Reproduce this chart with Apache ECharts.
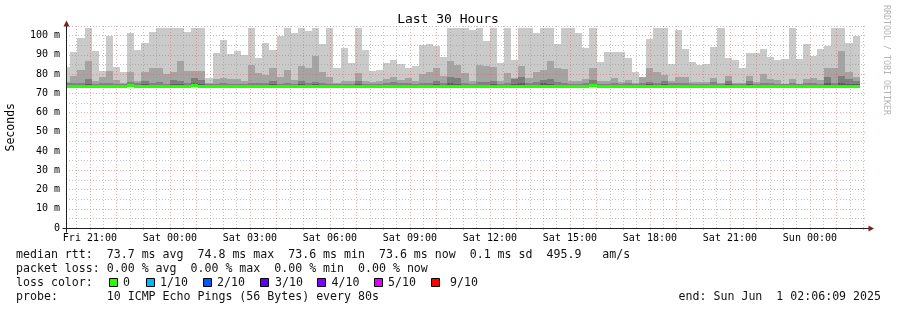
<!DOCTYPE html>
<html><head><meta charset="utf-8">
<script src="https://cdn.jsdelivr.net/npm/echarts@6/dist/echarts.min.js"></script>
<style>html,body{margin:0;padding:0;background:#fff}#c{width:897px;height:310px}</style>
</head><body><div id="c"></div>
<script>
// ---------- data ----------
const chartTitle = 'Last 30 Hours';
const yAxisName = 'Seconds';
const watermark = 'RRDTOOL / TOBI OETIKER';
// time in hours relative to Sat 00:00
const firstBinStartHour = -4;      // Fri 20:00
const binMinutes = 16;             // 12 x 80 s steps
const axisStartHour = -3.8975;     // Fri 20:06:09
const axisEndHour = 26.1025;       // Sun 02:06:09
const xLabelHours = [-3, 0, 3, 6, 9, 12, 15, 18, 21, 24];
const xLabels = ['Fri 21:00','Sat 00:00','Sat 03:00','Sat 06:00','Sat 09:00','Sat 12:00','Sat 15:00','Sat 18:00','Sat 21:00','Sun 00:00'];
const majorGridHours = [-3,-2,-1,0,1,2,3,4,5,6,7,8,9,10,11,12,13,14,15,16,17,18,19,20,21,22,23,24,25,26];
const minorGridHours = [-3.5,-2.5,-1.5,-0.5,0.5,1.5,2.5,3.5,4.5,5.5,6.5,7.5,8.5,9.5,10.5,11.5,12.5,13.5,14.5,15.5,16.5,17.5,18.5,19.5,20.5,21.5,22.5,23.5,24.5,25.5];
const yMax = 105, yStep = 5, yLabelStep = 10;

// smoke (ms): top of each band, per 16 min bin
const smokeMax = [
 83.6,91.4,98.6,103.8,91.9,81.7,99.8,83.6,81.0,101.2,92.4,96.0,102.0,103.8,103.8,103.8,103.8,102.0,103.8,103.8,78.0,90.9,97.6,90.3,91.9,89.8,103.8,88.3,
 96.0,92.5,99.7,103.8,101.6,103.8,102.2,103.8,95.9,103.8,83.4,93.4,85.7,103.8,92.4,81.7,82.2,86.0,87.2,85.3,83.4,84.0,95.2,95.5,94.5,88.8,103.8,103.8,
 103.8,102.9,103.8,97.2,103.8,85.7,103.8,87.4,103.8,103.8,101.2,103.8,103.8,95.5,103.8,103.8,101.2,93.4,103.8,86.4,91.4,91.7,91.7,88.3,81.0,78.3,98.3,103.8,
 103.8,85.2,102.8,92.9,86.2,84.8,85.2,94.0,103.8,88.6,87.2,83.1,90.9,90.9,92.9,89.1,87.2,87.9,103.8,87.9,95.5,89.5,92.9,94.8,103.8,103.8,96.0,100.0];
const smokeP9 = [
 76.0,78.8,82.2,86.9,76.6,78.3,81.7,77.0,75.5,81.0,76.2,81.0,83.1,83.1,80.0,81.0,86.9,81.7,81.7,81.7,75.5,77.4,78.0,77.4,77.4,76.6,84.8,80.5,
 79.7,83.4,78.3,82.1,77.1,84.0,83.4,89.5,81.0,78.6,75.3,76.2,76.6,80.5,76.2,75.7,76.2,77.6,78.6,76.9,77.9,76.2,80.0,80.9,83.1,78.8,86.6,84.8,
 80.5,76.6,84.8,84.3,83.6,76.2,80.5,77.9,84.0,77.9,81.0,82.2,86.9,83.1,82.8,76.2,76.2,77.6,83.1,76.6,76.6,77.9,75.9,77.1,75.3,78.3,83.1,81.0,
 79.7,76.6,78.3,78.3,75.9,75.9,75.9,77.9,75.5,78.8,75.2,75.2,78.8,75.9,80.0,77.4,76.9,74.8,77.4,74.8,77.4,77.9,76.9,83.1,83.1,92.1,81.0,78.3];
const smokeP8 = [
 75.2,75.5,75.3,77.4,75.0,75.2,75.3,75.0,74.8,75.9,75.3,76.6,75.3,76.0,75.0,77.0,76.2,75.3,78.0,77.0,74.8,75.0,75.2,75.0,75.0,74.9,75.5,75.2,
 75.2,76.2,75.0,75.3,75.0,76.2,75.5,76.0,75.3,75.0,74.8,75.0,75.0,76.4,75.0,74.9,75.0,75.6,75.8,75.2,75.6,75.0,75.4,75.6,76.6,75.4,78.6,77.9,
 75.6,75.0,76.0,75.8,76.2,75.0,75.4,77.5,78.6,75.4,75.8,76.9,77.4,76.0,75.6,75.0,75.0,75.6,77.0,75.0,75.0,75.5,74.9,75.2,74.9,75.4,76.0,75.6,
 76.4,75.2,75.4,75.6,75.0,75.0,75.0,75.8,74.9,76.6,74.9,75.0,76.2,75.0,75.2,75.4,75.0,74.8,75.6,74.8,75.4,75.6,75.0,78.6,75.6,79.0,77.3,76.3];
const smokeP7 = [
 74.3,74.4,74.4,75.0,74.2,74.3,74.4,74.2,74.2,74.6,74.3,74.6,74.3,74.5,74.2,75.0,74.8,74.4,75.3,74.8,74.2,74.2,74.3,74.3,74.2,74.2,74.4,74.3,
 74.3,74.6,74.3,74.4,74.2,74.6,74.4,74.6,74.3,74.3,74.2,74.3,74.2,74.6,74.3,74.2,74.2,74.4,74.5,74.3,74.4,74.3,74.4,74.4,74.6,74.3,75.2,74.8,
 74.4,74.3,74.5,74.4,74.6,74.2,74.4,75.0,75.4,74.4,74.5,75.5,74.8,74.5,74.4,74.3,74.3,74.4,75.0,74.3,74.2,74.4,74.2,74.3,74.2,74.4,74.6,74.4,
 74.8,74.3,74.4,74.4,74.2,74.2,74.3,74.5,74.2,74.6,74.2,74.3,74.6,74.3,74.4,74.4,74.3,74.2,74.4,74.2,74.4,74.4,74.3,75.2,74.4,75.6,74.8,74.6];
const smokeMin = [
 73.3,73.3,73.2,73.3,73.1,73.2,73.2,73.1,73.2,73.4,73.2,73.2,73.3,73.3,73.3,73.3,73.4,73.3,73.4,73.3,73.2,73.2,73.3,73.2,73.2,73.2,73.3,73.2,
 73.3,73.3,73.2,73.3,73.2,73.3,73.3,73.3,73.2,73.2,73.2,73.2,73.2,73.3,73.2,73.2,73.2,73.3,73.3,73.2,73.3,73.2,73.2,73.2,73.3,73.2,73.4,73.3,
 73.3,73.3,73.3,73.3,73.4,73.2,73.3,73.3,73.4,73.3,73.3,73.2,73.4,73.3,73.3,73.2,73.2,73.3,73.8,73.3,73.2,73.3,73.2,73.2,73.2,73.3,73.3,73.3,
 73.4,73.3,73.3,73.3,73.2,73.2,73.2,73.3,73.2,73.3,73.2,73.2,73.3,73.2,73.3,73.3,73.2,73.2,73.3,73.2,73.3,73.3,73.3,73.4,73.3,73.1,73.3,73.3];
const medianRtt = [
 73.8,73.7,73.7,73.8,73.5,73.5,73.6,73.5,73.6,73.9,73.6,73.6,73.7,73.8,73.7,73.8,73.8,73.7,73.9,73.8,73.6,73.6,73.7,73.6,73.6,73.6,73.7,73.6,
 73.7,73.8,73.6,73.7,73.6,73.7,73.7,73.7,73.6,73.6,73.6,73.6,73.6,73.7,73.6,73.6,73.6,73.7,73.7,73.6,73.7,73.6,73.6,73.6,73.7,73.6,73.8,73.7,
 73.7,73.7,73.7,73.7,73.8,73.6,73.7,73.7,73.8,73.7,73.7,73.6,73.8,73.7,73.7,73.6,73.6,73.7,74.3,73.7,73.6,73.7,73.6,73.6,73.6,73.7,73.7,73.7,
 73.8,73.7,73.7,73.7,73.6,73.6,73.6,73.7,73.6,73.7,73.6,73.6,73.7,73.6,73.7,73.7,73.6,73.6,73.7,73.6,73.7,73.7,73.7,73.8,73.7,73.5,73.7,73.7];

const legendLines = [
 'median rtt:  73.7 ms avg  74.8 ms max  73.6 ms min  73.6 ms now  0.1 ms sd  495.9   am/s',
 'packet loss: 0.00 % avg  0.00 % max  0.00 % min  0.00 % now',
 'loss color:',
 'probe:       10 ICMP Echo Pings (56 Bytes) every 80s'
];
const lossLabels = ['0','1/10','2/10','3/10','4/10','5/10','9/10'];
const lossColors = ['#26ff00','#00b8ff','#0059ff','#5e00ff','#7e00ff','#dd00ff','#ff0000'];
const endText = 'end: Sun Jun  1 02:06:09 2025';

// ---------- style / layout ----------
const MONO = '"DejaVu Sans Mono", monospace';
const smokeColors = ['#cacaca', '#a4a4a4', '#7e7e7e', '#585858'];
const medianColor = lossColors[0];
const GRID_RED = 'rgba(230,90,90,0.5)';
const GRID_GRAY = 'rgba(150,150,150,0.55)';
const lossBoxX = [109, 146, 203, 260, 317, 374, 431];
const lossLabelX = [123, 160, 217, 275, 331.5, 388, 450];
const legendY = [255, 269, 283, 297];

const binHours = binMinutes / 60;
const binData = smokeMax.map((mx, i) => {
  const s = firstBinStartHour + i * binHours;
  return [s, s + binHours, smokeMin[i], smokeP7[i], smokeP8[i], smokeP9[i], mx, medianRtt[i]];
});

function renderSmoke(params, api) {
  const s = api.value(0), e = api.value(1), lo = api.value(2);
  const tops = [api.value(6), api.value(5), api.value(4), api.value(3)];
  const pa = api.coord([s, lo]), pb = api.coord([e, lo]);
  const xa = Math.round(pa[0]), xb = Math.round(pb[0]), yb = Math.round(pa[1]);
  const children = tops.map((t, k) => {
    const yt = Math.round(api.coord([s, t])[1]);
    return { type: 'rect', shape: { x: xa, y: yt, width: xb - xa, height: yb - yt }, style: { fill: smokeColors[k] } };
  });
  return { type: 'group', children };
}
function renderMedian(params, api) {
  const s = api.value(0), e = api.value(1), m = api.value(7);
  const pa = api.coord([s, m]), pb = api.coord([e, m]);
  const xa = Math.round(pa[0]), xb = Math.round(pb[0]);
  const yc = Math.round(pa[1] - 1.5);
  return { type: 'rect', shape: { x: xa, y: yc, width: xb - xa, height: 3 }, style: { fill: medianColor } };
}

const chart = echarts.init(document.getElementById('c'));
const option = {
  animation: false,
  backgroundColor: '#ffffff',
  grid: { left: 66, right: 31, top: 26, bottom: 82, containLabel: false },
  xAxis: [{
    type: 'value', min: axisStartHour, max: axisEndHour, z: 4,
    axisLine: { show: false },
    axisTick: { show: true, customValues: majorGridHours, length: 2, lineStyle: { color: GRID_RED } },
    axisLabel: { customValues: xLabelHours, margin: 5, fontFamily: MONO, fontSize: 10, color: '#000',
      formatter: v => { const k = xLabelHours.indexOf(Math.round(v)); return k >= 0 ? xLabels[k] : ''; } },
    splitLine: { show: true, lineStyle: { color: GRID_RED, type: [1, 2], width: 1 } }
  }, {
    type: 'value', min: axisStartHour, max: axisEndHour, position: 'top', z: 3,
    axisLine: { show: false },
    axisTick: { show: false, customValues: minorGridHours },
    axisLabel: { show: false },
    splitLine: { show: true, lineStyle: { color: GRID_GRAY, type: [1, 2], width: 1 } }
  }],
  yAxis: [{
    type: 'value', min: 0, max: yMax, interval: yStep, z: 3,
    axisLine: { show: false }, axisTick: { show: false },
    axisLabel: { margin: 6, fontFamily: MONO, fontSize: 10, color: '#000',
      formatter: v => (v % yLabelStep !== 0 ? '' : (v === 0 ? '0' : v + ' m')) },
    splitLine: { show: true, lineStyle: { color: [GRID_RED, GRID_GRAY], type: [1, 2], width: 1 } }
  }],
  series: [{
    type: 'custom', name: 'smoke', z: 1, clip: true, renderItem: renderSmoke,
    encode: { x: [0, 1], y: [2, 6] }, data: binData
  }, {
    type: 'custom', name: 'median', z: 5, clip: true, renderItem: renderMedian,
    encode: { x: [0, 1], y: 7 }, data: binData
  }]
};
chart.setOption(option);

// axis lines, arrows and text via graphic
const o = chart.convertToPixel({ xAxisIndex: 0, yAxisIndex: 0 }, [axisStartHour, 0]);
const e = chart.convertToPixel({ xAxisIndex: 0, yAxisIndex: 0 }, [axisEndHour, yMax]);
const ax = Math.round(o[0]) + 0.5, ay = Math.round(o[1]) + 0.5;
const ex = Math.round(e[0]), ty = Math.round(e[1]);
const g = [];
g.push({ type: 'line', z: 10, shape: { x1: ax - 4, y1: ay, x2: ex + 4, y2: ay }, style: { stroke: '#1f1f1f', lineWidth: 1 } });
g.push({ type: 'line', z: 10, shape: { x1: ax, y1: ay + 4, x2: ax, y2: ty }, style: { stroke: '#1f1f1f', lineWidth: 1 } });
g.push({ type: 'polygon', z: 11, shape: { points: [[ax - 3, ty + 0.5], [ax + 3, ty + 0.5], [ax, ty - 5.5]] }, style: { fill: '#801f1f' } });
g.push({ type: 'polygon', z: 11, shape: { points: [[ex + 2.5, ay - 3], [ex + 2.5, ay + 3], [ex + 8, ay]] }, style: { fill: '#801f1f' } });
g.push({ type: 'text', z: 10, style: { text: chartTitle, x: 448, y: 20, align: 'center', verticalAlign: 'middle', font: '13px ' + MONO, fill: '#000' } });
g.push({ type: 'text', z: 10, x: 11, y: (ay + ty) / 2, rotation: Math.PI / 2, style: { text: yAxisName, x: 0, y: 0, align: 'center', verticalAlign: 'middle', font: '11.5px ' + MONO, fill: '#000' } });
g.push({ type: 'text', z: 10, x: 886, y: 60, rotation: -Math.PI / 2, style: { text: watermark, x: 0, y: 0, align: 'center', verticalAlign: 'middle', font: '8.3px ' + MONO, fill: '#b4b4b4' } });
legendLines.forEach((t, i) => {
  g.push({ type: 'text', z: 10, style: { text: t, x: 16, y: legendY[i], align: 'left', verticalAlign: 'middle', font: '11.6px ' + MONO, fill: '#111' } });
});
lossLabels.forEach((t, i) => {
  g.push({ type: 'rect', z: 10, shape: { x: lossBoxX[i] + 0.5, y: legendY[2] - 4.5, width: 8, height: 8 }, style: { fill: lossColors[i], stroke: '#000', lineWidth: 1 } });
  g.push({ type: 'text', z: 10, style: { text: t, x: lossLabelX[i], y: legendY[2], align: 'left', verticalAlign: 'middle', font: '11.6px ' + MONO, fill: '#111' } });
});
g.push({ type: 'text', z: 10, style: { text: endText, x: 881, y: legendY[3], align: 'right', verticalAlign: 'middle', font: '11.6px ' + MONO, fill: '#111' } });
chart.setOption({ graphic: g });
</script></body></html>
